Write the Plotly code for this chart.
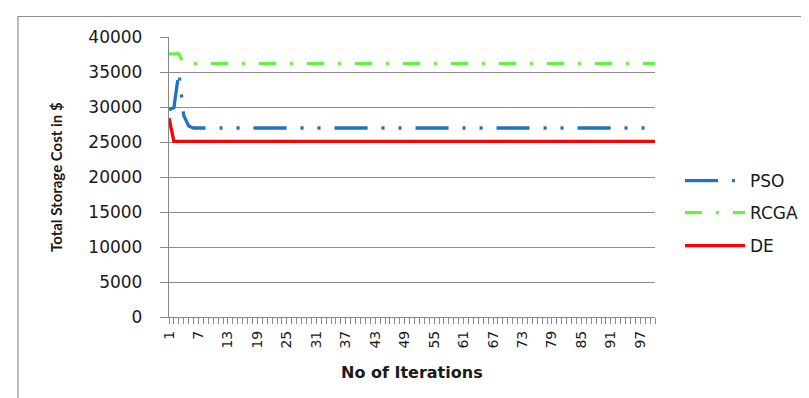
import plotly.graph_objects as go

iterations = list(range(1, 101))
x_tick_labels = [1, 7, 13, 19, 25, 31, 37, 43, 49, 55, 61, 67, 73, 79, 85, 91, 97]
y_tick_values = [0, 5000, 10000, 15000, 20000, 25000, 30000, 35000, 40000]

pso = [29600, 29900, 35000, 28800, 27300] + [27000] * 95
rcga = [37600, 37600, 37600] + [36200] * 97
de = [28400] + [25100] * 99

series_names = ["PSO", "RCGA", "DE"]

# plot area in pixels
W, H = 809, 398
L, R, T, B = 161, 647, 29, 309
pw, ph = R - L, B - T


def px_x(p):
    return (p - L) / pw


def px_y(p):
    return (B - p) / ph


fig = go.Figure()
fig.add_trace(go.Scatter(x=iterations, y=pso, name=series_names[0], mode="lines",
                         line=dict(color="#1F72C4", width=3.3, dash="33px,14px,3px,14px,3px,14px"),
                         legend="legend"))
fig.add_trace(go.Scatter(x=iterations, y=rcga, name=series_names[1], mode="lines",
                         line=dict(color="#66F23A", width=3.3, dash="17px,14px,3px,14px"),
                         legend="legend2"))
fig.add_trace(go.Scatter(x=iterations, y=de, name=series_names[2], mode="lines",
                         line=dict(color="#FF0000", width=3.3),
                         legend="legend3"))

leg_common = dict(x=px_x(672), xanchor="left", yanchor="middle", bgcolor="rgba(0,0,0,0)",
                  font=dict(family="DejaVu Sans", size=17, color="#1a1a1a"), itemwidth=60,
                  tracegroupgap=0)

fig.update_layout(
    width=W, height=H,
    margin=dict(l=L, r=W - R, t=T, b=H - B, pad=0),
    paper_bgcolor="white", plot_bgcolor="white",
    showlegend=True,
    legend=dict(y=px_y(173), **leg_common),
    legend2=dict(y=px_y(205), **leg_common),
    legend3=dict(y=px_y(238), **leg_common),
    xaxis=dict(
        range=[1, 100], tickmode="array", tickvals=x_tick_labels,
        ticktext=[str(v) for v in x_tick_labels], tickangle=-90,
        ticks="outside", ticklen=6, tickcolor="#888888", tickwidth=1,
        minor=dict(dtick=1, tick0=1, ticks="outside", ticklen=6, tickcolor="#888888", showgrid=False),
        showline=True, linecolor="#888888", linewidth=1.3,
        showgrid=False, zeroline=False, ticklabelstandoff=1,
        tickfont=dict(family="DejaVu Sans", size=14, color="#1a1a1a"),
    ),
    yaxis=dict(
        range=[0, 40000], tickmode="array", tickvals=y_tick_values,
        ticktext=[str(v) for v in y_tick_values],
        ticks="outside", ticklen=8, tickcolor="#888888",
        showline=True, linecolor="#888888", linewidth=1.3,
        showgrid=True, gridcolor="#8c8c8c", gridwidth=1, zeroline=False,
        ticklabelstandoff=14,
        tickfont=dict(family="DejaVu Sans", size=17, color="#1a1a1a"),
    ),
    annotations=[
        dict(text="<b>No of Iterations</b>", xref="paper", yref="paper", x=0.5, y=px_y(364),
             xanchor="center", yanchor="middle", showarrow=False,
             font=dict(family="DejaVu Sans", size=16, color="#1a1a1a")),
        dict(text="<b>Total Storage Cost in $</b>", xref="paper", yref="paper", x=px_x(48), y=0.5,
             xanchor="center", yanchor="middle", showarrow=False, textangle=-90,
             font=dict(family="Lato", size=15, color="#1a1a1a")),
    ],
    shapes=[
        dict(type="rect", xref="paper", yref="paper", x0=px_x(10), x1=px_x(806),
             y0=px_y(430), y1=px_y(8.5), line=dict(color="#8c8c8c", width=1.2),
             fillcolor="rgba(0,0,0,0)", layer="below"),
    ],
)

fig.write_html("out.html")
